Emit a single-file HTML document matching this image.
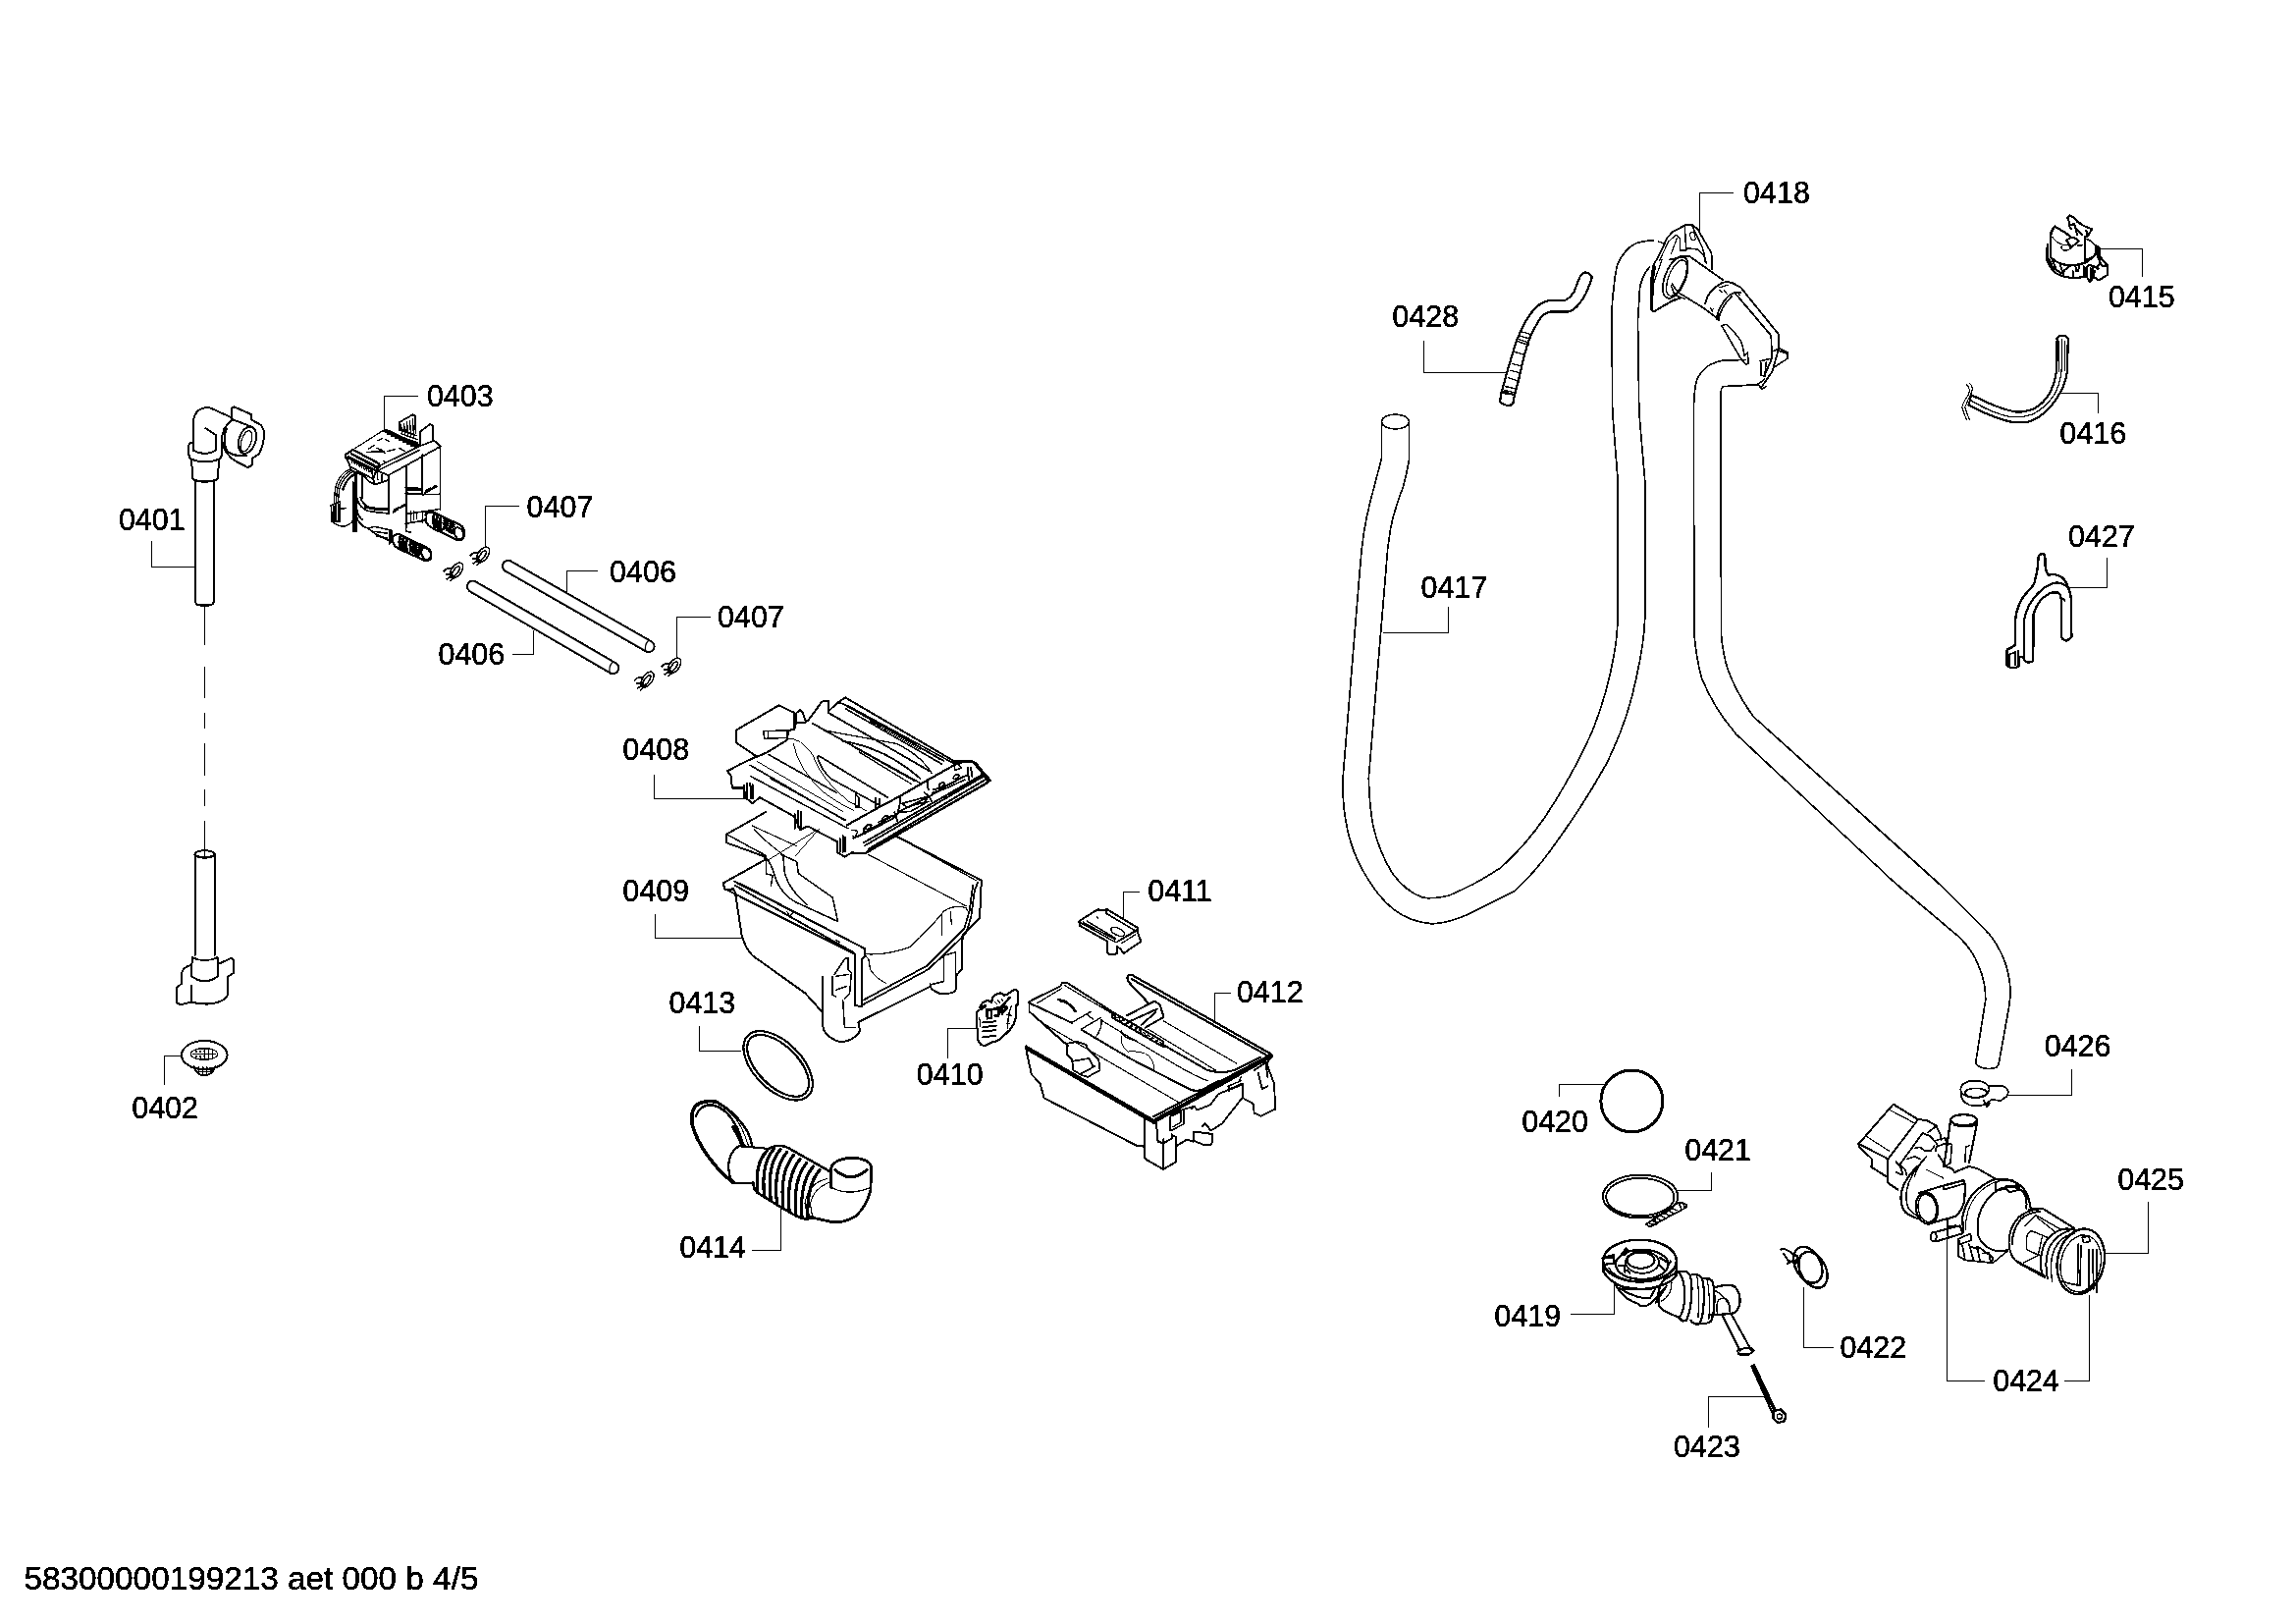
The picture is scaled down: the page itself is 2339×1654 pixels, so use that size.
<!DOCTYPE html>
<html><head><meta charset="utf-8"><style>
html,body{margin:0;padding:0;background:#fff;width:2339px;height:1654px;overflow:hidden}
svg{position:absolute;left:0;top:0}
.parts *{vector-effect:non-scaling-stroke}
text{font-family:"Liberation Sans",sans-serif;font-size:30.5px;fill:#000;stroke:#000;stroke-width:0.5px}
</style></head><body>
<svg width="2339" height="1654" viewBox="0 0 2339 1654" xmlns="http://www.w3.org/2000/svg">
<defs><filter id="bin" x="0" y="0" width="2339" height="1654" filterUnits="userSpaceOnUse"><feComponentTransfer><feFuncA type="discrete" tableValues="0 1"/></feComponentTransfer></filter></defs>
<g filter="url(#bin)">
<g fill="none" stroke="#000" stroke-width="1.2" shape-rendering="crispEdges">
<polyline points="154.5,550.5 154.5,577.5 198.5,577.5"/>
<polyline points="185.5,1075.5 167.5,1075.5 167.5,1104.5"/>
<polyline points="425.5,403.5 391.5,403.5 391.5,439.5"/>
<polyline points="528.5,515.5 494.5,515.5 494.5,555.5"/>
<polyline points="608.5,581.5 577.5,581.5 577.5,602.5"/>
<polyline points="723.5,628.5 689.5,628.5 689.5,668.5"/>
<polyline points="521.5,666.5 543.5,666.5 543.5,641.5"/>
<polyline points="666.5,788.5 666.5,813.5 757.5,813.5"/>
<polyline points="667.5,930.5 667.5,955.5 755.5,955.5"/>
<polyline points="712.5,1044.5 712.5,1070.5 754.5,1070.5"/>
<polyline points="765.5,1273.5 795.5,1273.5 795.5,1228.5"/>
<polyline points="1160.5,908.5 1144.5,908.5 1144.5,936.5"/>
<polyline points="1253.5,1011.5 1237.5,1011.5 1237.5,1039.5"/>
<polyline points="965.5,1077.5 965.5,1047.5 995.5,1047.5"/>
<polyline points="1765.5,196.5 1731.5,196.5 1731.5,235.5"/>
<polyline points="1450.5,346.5 1450.5,379.5 1533.5,379.5"/>
<polyline points="1475.5,617.5 1475.5,644.5 1408.5,644.5"/>
<polyline points="2138.5,253.5 2182.5,253.5 2182.5,281.5"/>
<polyline points="2098.5,400.5 2137.5,400.5 2137.5,420.5"/>
<polyline points="2146.5,567.5 2146.5,598.5 2107.5,598.5"/>
<polyline points="2110.5,1088.5 2110.5,1115.5 2044.5,1115.5"/>
<polyline points="2188.5,1223.5 2188.5,1276.5 2144.5,1276.5"/>
<polyline points="1983.5,1259.5 1983.5,1406.5 2021.5,1406.5"/>
<polyline points="2102.5,1406.5 2128.5,1406.5 2128.5,1318.5"/>
<polyline points="1837.5,1310.5 1837.5,1372.5 1867.5,1372.5"/>
<polyline points="1588.5,1116.5 1588.5,1104.5 1633.5,1104.5"/>
<polyline points="1743.5,1193.5 1743.5,1212.5 1708.5,1212.5"/>
<polyline points="1599.5,1338.5 1644.5,1338.5 1644.5,1307.5"/>
<polyline points="1740.5,1453.5 1740.5,1422.5 1797.5,1422.5"/>
</g>
<g fill="none" stroke="#000" stroke-width="2" stroke-linejoin="round" stroke-linecap="round" class="parts">
<!-- 0401 upper: zoom region [150,390] scale 6.493 -->
<g transform="translate(150,390) scale(0.15401)">
<path d="M318,655 L318,1440 Q318,1468 348,1470 L412,1470 Q440,1468 440,1440 L440,655"/>
<path d="M292,505 L302,638 Q380,672 464,638 L476,505"/>
<path d="M302,638 Q380,660 464,638" stroke-width="1"/>
<path d="M292,505 Q275,495 275,470 L275,410 Q278,395 300,395"/>
<path d="M292,505 Q380,540 476,505 Q492,495 492,470 L492,350"/>
<path d="M305,445 L305,260 Q310,165 405,160 L548,225"/>
<path d="M305,445 Q380,490 455,445 L455,345 L385,300"/>
<path d="M560,165 L575,158 L690,210 L690,245 L752,278 L775,322 L775,352 L760,420 L740,470 L692,500 L692,545 L665,560 L600,525 L560,500 L525,462 L502,420 L492,360 L510,300 L545,260 L560,245 Z"/>
<path d="M560,240 L690,290"/>
<ellipse cx="662" cy="378" rx="55" ry="92" transform="rotate(18 662 378)"/>
<ellipse cx="655" cy="385" rx="32" ry="72" transform="rotate(18 655 385)" stroke-width="1.2"/>
<path d="M525,300 Q495,380 530,452 Q580,490 660,480"/>
</g>
<!-- 0401 lower: zoom region [160,840] scale 6.01 -->
<g transform="translate(160,840) scale(0.16639)">
<path d="M232,180 L232,800 M352,180 L352,800"/>
<ellipse cx="292" cy="180" rx="60" ry="22"/>
<path d="M258,192 Q292,220 326,192" stroke-width="1.2"/>
<path d="M215,812 L210,925 Q292,990 375,925 L370,812"/>
<path d="M215,812 Q292,850 370,812"/>
<path d="M210,860 Q160,870 152,905 L152,972 L120,995 L118,1080 Q125,1100 150,1100 L210,1085 Q260,1100 330,1095 Q410,1085 430,1045 L432,930 L470,905 L470,830 L455,815 L405,840 L375,850"/>
<path d="M212,985 L212,1085"/>
</g>
<!-- dashed centre line -->
<g stroke-width="1.2">
<path d="M208.5,616 L208.5,656 M208.5,679 L208.5,710 M208.5,726 L208.5,741 M208.5,757 L208.5,789 M208.5,804 L208.5,820 M208.5,836 L208.5,872"/>
</g>
<!-- 0402 strainer -->
<g transform="translate(160,840) scale(0.16639)">
<ellipse cx="290" cy="1410" rx="140" ry="88"/>
<ellipse cx="288" cy="1403" rx="82" ry="36" stroke-width="1.2"/>
<path d="M215,1403 L361,1403 M230,1388 L346,1388 M230,1418 L346,1418 M250,1373 L326,1373 M250,1432 L326,1432 M240,1370 L240,1436 M265,1368 L265,1438 M290,1367 L290,1439 M315,1368 L315,1438 M340,1372 L340,1434" stroke-width="0.8"/>
<path d="M225,1480 Q240,1530 290,1535 Q340,1530 355,1480" />
<path d="M240,1490 L340,1490 M235,1510 L345,1510 M255,1480 L255,1528 M280,1480 L280,1533 M305,1480 L305,1533 M330,1480 L330,1528" stroke-width="0.8"/>
</g>

<!-- 0403 valve: frame [320,420] x10.15 -->
<g transform="translate(320,420) scale(0.098522)" stroke-width="1.8">
<!-- top plate -->
<path d="M400,385 L712,188" stroke-width="1.3"/>
<path d="M712,188 L745,178 L1095,340 L1060,360 Z" stroke-width="1.8"/>
<path d="M730,200 L1075,360 M745,190 L1085,345 M760,230 L780,215 M800,250 L820,235 M840,270 L860,255 M880,290 L900,275 M920,310 L940,295 M960,330 L980,315 M1000,350 L1020,335" stroke-width="1.4"/>
<path d="M600,590 L1100,345 M770,650 L1305,352 M640,610 L1090,390" stroke-width="1.6"/>
<path d="M1100,345 L1240,292 L1305,345 L1305,1005" stroke-width="1.8"/>
<path d="M880,105 L1020,22 L1048,40 L1050,215 M880,105 L880,185 L960,185" stroke-width="1.8"/>
<path d="M900,130 L910,230 M930,115 L940,230 M960,100 L970,235 M990,85 L1000,240 M1020,70 L1030,250 M890,180 L1060,240 M895,220 L1070,280 M900,260 L1075,310" stroke-width="1.3"/>
<path d="M1095,200 L1200,122 L1228,140 L1230,292 M1095,200 L1095,335" stroke-width="1.8"/>
<path d="M560,380 L620,340 M650,370 L720,410 M540,410 L720,400 M690,380 L730,420 M760,400 L840,380 M880,370 L940,400 M720,500 L740,520 M660,290 L700,270 M740,280 L780,300" stroke-width="1.5"/>
<!-- left connector -->
<path d="M320,440 L400,385 L672,530 L680,560 L640,600 L600,590 L370,478 L330,470 Z" stroke-width="2"/>
<path d="M330,470 L360,530 L372,560 L612,690 L640,600 M372,560 L380,595 L525,665 L560,710 L630,745 L770,700 L770,650 L640,600" stroke-width="1.8"/>
<path d="M350,450 L640,600 M380,420 L660,565 M420,395 L670,535 M440,405 L655,520 M380,430 L640,575" stroke-width="1.5"/>
<path d="M380,480 L395,520 M405,490 L420,535 M430,505 L445,548 M455,518 L470,560 M480,530 L495,575 M505,545 L520,590 M530,558 L545,600 M555,570 L570,615 M580,585 L595,630" stroke-width="1.4"/>
<path d="M600,600 L610,680 M650,620 L660,700 M700,640 L700,720 M620,700 L620,740" stroke-width="1.3"/>
<!-- coils -->
<path d="M500,650 L500,880 M770,650 L770,1045 M950,560 L950,1190 M1120,440 L1120,850" stroke-width="2"/>
<path d="M480,880 Q500,960 600,995 L770,1000 M440,880 Q460,980 560,1020 Q650,1040 770,1045" stroke-width="1.8"/>
<path d="M530,975 Q600,1000 760,1000" stroke-width="3"/>
<path d="M950,780 L1110,790 M950,835 Q1030,850 1110,845 M960,800 L1100,805" stroke-width="2"/>
<path d="M820,1030 L930,960 M830,1010 L900,970 M1150,830 L1290,750 M1160,810 L1260,760" stroke-width="2.4" stroke-dasharray="5 3"/>
<path d="M1120,850 L1300,845 M950,1050 L1300,1000 M950,1150 L1130,1120 L1150,1100" stroke-width="1.6"/>
<path d="M420,620 L420,1230 M440,620 L440,1230 M400,720 L400,1230 L440,1235" stroke-width="1.6"/>
<path d="M430,1060 Q460,1170 560,1200 L640,1260 L800,1340 M440,1000 Q450,1070 500,1110" stroke-width="1.8"/>
<path d="M560,1200 L620,1180 L800,1220 L800,1340 M780,1220 L780,1360 M620,1230 L760,1250 M640,1280 L760,1300" stroke-width="1.5"/>
<path d="M950,1150 L950,1230 L1000,1240 M1000,1020 L1000,1130 M1030,1020 L1030,1110 M1060,1030 L1060,1100 M1120,1020 L1120,1140 M1160,1020 L1160,1120" stroke-width="1.5"/>
<!-- wires -->
<path d="M360,590 Q260,640 225,760 Q205,850 210,950 M380,600 Q285,650 245,770 Q228,850 230,930 M400,610 Q310,665 265,780 Q250,850 250,925 M420,630 Q330,690 290,800 M410,650 Q320,710 300,810" stroke-width="1.3"/>
<path d="M175,960 L270,920 L270,1130 L185,1130 Z M200,950 L200,1130 M225,940 L225,1130 M250,930 L250,1130" stroke-width="1.6"/>
<path d="M185,1130 Q240,1180 300,1180 Q360,1170 395,1130 M270,1000 L330,990" stroke-width="1.4"/>
<!-- nozzle lower -->
<path d="M810,1300 Q830,1255 880,1260 L1160,1395 Q1215,1420 1210,1470 Q1200,1530 1140,1530 L880,1410 Q815,1380 810,1320" stroke-width="2.2"/>
<ellipse cx="1160" cy="1465" rx="45" ry="68" transform="rotate(-28 1160 1465)" stroke-width="2"/>
<path d="M890,1290 Q870,1340 900,1420 M925,1300 Q905,1360 935,1435 M960,1310 Q940,1370 965,1450" stroke-width="3"/>
<path d="M985,1330 L1120,1400 M985,1350 L1115,1420 M980,1370 L1110,1440 M985,1390 L1100,1460 M990,1410 L1090,1475 M1000,1430 L1080,1490 M1000,1320 L990,1440 M1030,1335 L1020,1460 M1060,1350 L1050,1475 M1090,1365 L1080,1490" stroke-width="1.4"/>
<!-- nozzle upper -->
<path d="M1150,1060 Q1175,1020 1230,1030 L1500,1160 Q1560,1190 1555,1250 Q1545,1320 1480,1320 L1230,1200 Q1160,1170 1150,1100" stroke-width="2.2"/>
<ellipse cx="1500" cy="1255" rx="45" ry="68" transform="rotate(-28 1500 1255)" stroke-width="2"/>
<path d="M1240,1060 Q1220,1110 1250,1190 M1275,1070 Q1255,1130 1285,1205 M1310,1080 Q1290,1140 1315,1215" stroke-width="3"/>
<path d="M1335,1100 L1460,1165 M1335,1120 L1455,1185 M1330,1140 L1450,1205 M1335,1160 L1440,1225 M1340,1180 L1430,1240 M1350,1200 L1420,1255 M1350,1095 L1340,1210 M1380,1110 L1370,1225 M1410,1125 L1400,1240 M1440,1140 L1430,1255" stroke-width="1.4"/>
</g>

<!-- 0406 tubes -->
<g>
<path d="M517.7,576.6 L660.9,658.3" stroke-width="13.5" stroke-linecap="round"/>
<path d="M517.7,576.6 L660.9,658.3" stroke="#fff" stroke-width="9.5" stroke-linecap="round"/>
<path d="M481.6,597.3 L624.5,680.3" stroke-width="13.5" stroke-linecap="round"/>
<path d="M481.6,597.3 L624.5,680.3" stroke="#fff" stroke-width="9.5" stroke-linecap="round"/>
<path d="M660.5,652.5 Q656,657 658,664" stroke-width="1.2"/>
<path d="M624,674.5 Q619.5,679 621.5,686" stroke-width="1.2"/>
</g>
<!-- 0407 clips -->
<g id="clipA" stroke-width="1.6">
<g transform="translate(492,565)">
<ellipse cx="0" cy="0" rx="9" ry="5" transform="rotate(-55)"/>
<ellipse cx="-1" cy="0" rx="6" ry="2.3" transform="rotate(-55)"/>
<path d="M-13,1 Q-10,-3 -6,-2 M-11,4 L-6,4 M-10,9 L-4,5 M-7,11 L-2,7"/>
</g>
</g>
<use href="#clipA" transform="translate(-27,16)"/>
<use href="#clipA" transform="translate(195,113)"/>
<use href="#clipA" transform="translate(167.5,127)"/>

<!-- 0408 insert: frame [730,700] scale 8.2 -->
<g transform="translate(730,700) scale(0.121951)">
<path d="M90,700 L200,640 L310,590 L420,545 L590,440 L600,360 L650,350 L655,300 L740,295 L770,270 L880,120 L935,110 L935,200 L1010,130 L1075,85 L1990,620 L2140,620 L2270,780 L2260,800 L1230,1390 L1130,1380 L1070,1415 L1010,1380 L1010,1290 L760,1160 L700,1190 L650,1080 L360,920 L300,970 L240,920 L230,840 L130,840 L120,740 Z"/>
<path d="M160,360 L520,150 L645,210 L650,345 M160,360 L160,460 L330,575"/>
<path d="M660,300 L665,215 L700,190 L720,210 L745,290"/>
<path d="M390,365 L590,360 L590,420 L400,430 Z M430,370 L430,425" stroke-width="1.5"/>
<path d="M1010,130 L1050,135 L1900,615 M1080,180 L1880,640 M1090,150 L1990,640" stroke-width="1.6"/>
<path d="M1260,250 L1860,600 M1280,280 L1700,520" stroke-width="1"/>
<path d="M930,210 L1780,700 M850,330 L1700,800 M800,300 L860,330" stroke-width="1.8"/>
<path d="M900,360 L1500,470 Q1700,560 1800,720" stroke-width="1.4"/>
<path d="M1050,450 Q1400,500 1700,760" stroke-width="1.8"/>
<path d="M1150,500 L1650,780 M1190,540 L1630,810" stroke-width="1.3"/>
<path d="M600,430 Q700,420 800,560 Q880,780 1100,950 L1250,1030" stroke-width="1"/>
<path d="M640,470 Q690,700 900,880 Q1000,960 1150,1030" stroke-width="1"/>
<path d="M840,580 Q870,680 950,760 L1350,980" stroke-width="1.6"/>
<path d="M850,570 L1430,920" stroke-width="1.8"/>
<path d="M280,650 L1070,1110 M280,740 L1100,1180 M430,560 L1000,880 M450,760 L1080,1110" stroke-width="1.6"/>
<path d="M340,620 L1060,1040" stroke-width="1"/>








<!-- clips -->
<path d="M230,820 L230,930 M255,800 L255,920 M280,800 L290,930 M300,810 L305,930" stroke-width="1.8"/>
<path d="M655,1060 L655,1180 M680,1030 L680,1170 M705,1040 L705,1170" stroke-width="1.8"/>
<path d="M1030,1260 L1030,1380 M1055,1240 L1055,1380 M1075,1250 L1075,1370" stroke-width="1.8"/>
<path d="M1160,890 L1160,1000 L1190,1000 L1190,920 Z M1330,920 L1330,1010 L1360,1000 L1360,930" stroke-width="1.6"/>
<path d="M1180,1200 L1150,1260 L1140,1240 M1130,1190 L1180,1200" stroke-width="1.3"/>
</g>
<!-- 0408 front rail: frame [850,760] x13.53 -->
<g transform="translate(850,760) scale(0.073910)" stroke-width="1.8">
<path d="M440,1470 L2125,490 M470,1420 L2090,455 M400,1330 L2040,390 M420,1370 L2060,410" stroke-width="2"/>
<path d="M170,1090 L500,905 L900,690 L1280,470 L1700,232 L1850,205 L1950,232 L2070,380 L2150,470" stroke-width="2.2"/>
<path d="M260,1270 Q300,1250 420,1200 L800,1000 L900,900 L1300,700 L1550,540 L1830,395" stroke-width="1.8"/>
<path d="M330,1230 L900,910 M930,880 L1500,590" stroke-width="1.2"/>
<path d="M420,1200 Q380,1150 430,1100 Q480,1060 510,1090 M600,1050 L800,950 M900,910 L1050,900 L1300,760 M1350,640 L1500,600 L1800,460" stroke-width="1.6"/>
<path d="M910,690 L900,800 L880,900 M830,910 L870,1030 M1280,470 L1280,560 L1300,600 M1240,640 L1310,700 L1340,760 M1840,300 L1850,460 M1880,290 L1900,420" stroke-width="2"/>
<path d="M930,790 L1300,690 L1250,770 L1000,840 Z" stroke-width="1.6"/>
<path d="M1360,600 Q1500,580 1780,420" stroke-width="1.8"/>
<ellipse cx="470" cy="1110" rx="45" ry="24" transform="rotate(-35 470 1110)" stroke-width="1.6"/>
<ellipse cx="700" cy="990" rx="45" ry="24" transform="rotate(-35 700 990)" stroke-width="1.6"/>
<ellipse cx="1480" cy="530" rx="45" ry="24" transform="rotate(-35 1480 530)" stroke-width="1.6"/>
<ellipse cx="1680" cy="420" rx="45" ry="24" transform="rotate(-35 1680 420)" stroke-width="1.6"/>
<path d="M1650,250 L1660,330 L1750,300 M1700,230 L1750,300" stroke-width="1.6"/>
</g>

<!-- 0409 box: frame [620,820] scale 5.74 -->
<g transform="translate(620,820) scale(0.174216)">
<path d="M690,170 L920,40 M690,170 L690,220 L910,300 L915,320 L670,455 L680,495 L730,490 L740,510 L780,770 L800,820 Q830,880 870,900 L1150,1100 L1250,1210 L1255,1310 Q1290,1370 1360,1385 Q1440,1375 1470,1320 L1460,1270 L1880,1060 Q1900,1095 1960,1105 Q2020,1100 2030,1080 L2030,1000 L2065,960 L2070,760 L2130,700 L2170,660 L2180,440 L1680,180"/>
<path d="M690,170 L910,290 L920,300" stroke-width="1.5"/>
<path d="M735,445 L1470,825 L1500,845 L1500,880 M770,460 L1500,840 M680,490 L1440,870 M740,470 L1430,860" stroke-width="2"/>
<path d="M1440,870 L1440,1170 L1480,1180 L1480,900 L1500,880" stroke-width="2"/>
<path d="M1480,1170 L1870,960 L2090,750 L2120,650 L2140,500 L2160,450 M1490,1140 L1860,940 L2080,720 L2110,620 L2130,470" stroke-width="1.8"/>
<path d="M1500,880 L1520,900 L1530,960 Q1560,1010 1620,1040 M1510,870 Q1620,880 1760,830 Q1880,720 1960,620 Q2020,580 2090,600 L2100,620" stroke-width="1.2"/>
<path d="M1520,290 L2090,590 M1680,180 L2150,440" stroke-width="1.2"/>
<path d="M1950,640 L1950,760 M2000,620 L2005,700" stroke-width="1.2"/>
<path d="M920,300 L920,400 L960,410 L950,470 M920,310 Q950,330 980,440 Q1020,530 1100,570 L1340,680 L1310,540 L1110,400 L1100,330 L1010,290 M1020,290 L1030,400 Q1060,500 1160,580" stroke-width="1.5"/>
<path d="M840,120 L1100,240 M850,140 Q900,200 1020,290" stroke-width="1.1"/>
<path d="M920,330 L1210,150 M1090,300 L1230,140" stroke-width="1"/>
<path d="M1250,1000 L1250,1210 M1310,1000 L1310,1110 L1330,1120 M1320,990 L1380,900 L1400,890 L1400,960 L1420,980 L1410,1100 L1380,1130 M1330,1000 L1400,990 M1330,1080 L1390,1060 M1370,1140 L1380,1300 L1440,1300" stroke-width="1.5"/>
<path d="M1880,1060 L1880,1040 M1940,900 L1960,880 L2030,860 L2030,1000 M1960,880 L1960,1030 L1880,1050" stroke-width="1.5"/>
<path d="M1040,620 L1060,650 L1080,630 M1330,790 L1350,800" stroke-width="1.2"/>
</g>

<!-- 0410-0412: frame [920,880] scale 5.075 -->
<g transform="translate(920,880) scale(0.197044)">
<!-- 0411 switch -->
<path d="M910,295 L1005,235 L1050,240 L1050,232 L1215,330 L1215,360 L1230,400 L1140,462 L1125,440 L1105,425 L1105,462 Q1080,475 1058,462 L1058,400 L912,318 Z"/>
<path d="M912,300 L1100,405 L1215,335 M1050,240 L1050,255 L1200,345 M930,300 L1095,390 M950,295 L1100,385" stroke-width="1.5"/>
<ellipse cx="1110" cy="350" rx="38" ry="18" transform="rotate(25 1110 350)" stroke-width="1.3"/>
<path d="M1000,270 L1010,285 M1120,395 L1210,345 M1130,410 L1200,365" stroke-width="1.3"/>
</g>

<!-- 0412 drawer: frame [1000,960] x7.383 -->
<g transform="translate(1000,960) scale(0.135446)" stroke-width="2">
<path d="M350,450 L355,445 L595,325 L605,305 L640,300 L990,525 L990,535 M985,565 L1360,780 L1370,745 L990,525 M985,535 L985,570 M1365,760 L1372,785"/>
<path d="M420,455 L600,345 M620,320 L975,530" stroke-width="1.2"/>
<path d="M995,545 L1360,760" stroke-width="1.6" stroke-dasharray="2 3"/>
<path d="M1000,560 L1360,772" stroke-width="1.2" stroke-dasharray="2 4"/>
<path d="M1100,250 Q1110,238 1135,245 L2180,840 L2185,860 L2160,880 L2150,905 M1130,275 L2150,850 M1100,250 Q1090,275 1110,300 L1250,450" stroke-width="2.2"/>
<path d="M1090,550 L1300,440 L1340,465 L1370,560 L1230,640 M1120,590 L1320,500 M1200,620 L1310,525" stroke-width="2"/>
<path d="M1370,590 L1920,910 M1250,650 L1760,960" stroke-width="1.2"/>
<path d="M355,450 L360,520 Q500,650 650,780 M450,600 L1480,1200 M910,590 L1480,930 Q1600,1000 1700,1040" stroke-width="1.2"/>
<path d="M355,452 L680,605 M360,520 L650,775 M750,655 L1130,880 L1560,1100 Q1600,1120 1650,1110 L1780,1040 M1370,770 L1700,960 Q1800,990 1900,960 L2100,860" stroke-width="2"/>
<path d="M575,430 Q640,420 710,515 M590,440 Q645,440 700,515" stroke-width="1.8"/>
<path d="M680,600 L820,520 M750,650 L895,565 M795,540 L840,580 M900,580 Q910,650 850,720 M1050,660 Q1060,720 1170,740" stroke-width="1.4"/>
<path d="M1050,700 Q1040,780 1100,820 Q1200,810 1260,850 Q1300,900 1300,960" stroke-width="1"/>
<path d="M640,760 L720,745 L790,770 L790,790 L880,880 L890,960 L800,1010 L760,1000 L690,960 L680,880 L640,840 Z M690,890 L810,870 L840,940 M740,990 L850,930" stroke-width="1.8"/>
<path d="M335,780 L1310,1345 L2180,860 M335,800 L1300,1360 M1290,1310 L2170,845 M1310,1325 L2175,858" stroke-width="2.2"/>
<path d="M335,780 L340,830 L375,990 L440,1060 L470,1170 L1175,1531 L1222,1531" stroke-width="2"/>
<path d="M1222,1323 L1222,1606 L1233,1629 L1366,1705 L1465,1647 L1465,1462 L1430,1450 M1366,1479 L1366,1705 M1314,1358 L1326,1496 L1366,1508 L1430,1474 L1430,1439" stroke-width="2"/>
<path d="M1418,1311 L1418,1415 M1522,1265 L1522,1364 L1430,1410 M1440,1300 L1500,1270 L1500,1350 L1440,1385" stroke-width="1.5"/>
<path d="M1471,1525 L1546,1480 L1592,1496 L1598,1421 L1736,1439 L1736,1502 L1720,1520 L1673,1522 L1598,1491 M1660,1380 L1680,1360 L1720,1410" stroke-width="2"/>
<path d="M1720,1415 Q1780,1380 1812,1358 Q1840,1320 1870,1282 L1962,1166 L1962,1062 M1962,1166 L2044,1213 L2050,1282 L2101,1305 L2200,1254" stroke-width="1.8"/>
<path d="M1600,1230 L1620,1260 L1720,1220 L1780,1140 L1960,1060 M1580,1250 L1600,1230 M1420,1300 L1500,1260 L1600,1230" stroke-width="1.8"/>
<path d="M2050,960 L2140,900 L2200,1060 L2210,1260 M2140,920 L2150,1010 M2080,980 L2110,1100 L2150,1080" stroke-width="1.8"/>
<path d="M1850,1080 L1950,1040 M1860,1110 L1960,1070 M1860,1080 L1860,1120" stroke-width="1.4"/>
<path d="M1940,1040 L1950,1010" stroke-width="1.4"/>
</g>
<!-- 0410: frame [990,1000] x23.2 -->
<g transform="translate(990,1000) scale(0.043103)" stroke-width="2.2">
<path d="M120,720 L200,650 L200,560 L260,490 L370,430 L470,490 L480,390 L530,320 L650,265 L700,270 L770,320 L830,300 L950,210 L1030,175 L1080,210 L1090,400 L1100,520 L1050,560 L1040,850 L990,1000 L900,1130 L800,1230 L700,1330 L580,1400 L480,1420 L380,1480 L290,1510 L210,1480 L150,1380 L130,1100 L110,1050 L110,900 Z"/>
<path d="M200,600 Q260,560 330,570 L220,640" stroke-width="2.6"/>
<path d="M350,665 L460,660 L460,860 L370,865 Z M540,645 L640,640 L630,800 L545,800 M700,590 L820,580 L820,630 L715,750 Z" stroke-width="2.6"/>
<path d="M510,645 L700,590 L900,370" stroke-width="2.6"/>
<path d="M260,960 L570,935 M260,1075 L590,1030 M260,1165 L570,1145 M260,1310 L570,1265" stroke-width="2"/>
<path d="M940,570 Q880,700 870,800 Q855,950 840,1100 M820,770 L940,800 M820,980 L900,990" stroke-width="1.4"/>
<path d="M540,470 L590,520 M610,420 L660,500 M700,400 L730,450 M170,840 Q220,950 200,1050" stroke-width="1.3"/>
</g>

<!-- 0413/0414: frame [670,1030] scale 6.248 -->
<g transform="translate(670,1030) scale(0.16005)">
<ellipse cx="766" cy="346" rx="271" ry="152" transform="rotate(45 766 346)" stroke-width="2.2"/>
<ellipse cx="766" cy="346" rx="246" ry="128" transform="rotate(45 766 346)" stroke-width="2.2"/>
</g>
<!-- 0414: frame [680,1120] x10.436 -->
<g transform="translate(680,1120) scale(0.095822)" stroke-width="2">
<path d="M700,882 Q560,780 430,600 Q300,420 262,260 Q240,100 330,42 Q400,12 470,15 L520,22" stroke-width="3.6"/>
<path d="M520,22 Q600,60 700,150 Q800,250 850,340 Q890,420 900,492" stroke-width="2.4"/>
<path d="M300,175 Q340,62 450,55 Q550,60 640,150 Q720,240 770,370 L810,490" stroke-width="2.4"/>
<path d="M700,290 Q760,380 800,490" stroke-width="4"/>
<path d="M520,35 Q620,90 710,180 Q800,290 860,490" stroke-width="1.1"/>
<path d="M760,490 L1080,522 M700,885 L912,885 M760,490 Q650,560 648,710 Q655,830 700,882" stroke-width="2.2"/>
<path d="M760,490 Q650,560 648,710" stroke-width="1"/>
<path d="M1080,522 Q1120,490 1190,488 Q1260,490 1340,545 L1740,772 M910,880 Q915,960 960,990 L1170,1120 L1290,1190 Q1400,1265 1480,1270 L1530,1252" stroke-width="2.6"/>
<g stroke-width="3.2">
<path d="M1060,540 Q920,680 960,990"/>
<path d="M1130,525 Q990,680 1030,1030"/>
<path d="M1200,530 Q1050,700 1100,1070"/>
<path d="M1270,555 Q1120,730 1165,1110"/>
<path d="M1340,590 Q1190,770 1230,1150"/>
<path d="M1410,630 Q1260,810 1295,1190"/>
<path d="M1480,670 Q1330,850 1365,1230"/>
<path d="M1550,710 Q1400,890 1430,1260"/>
<path d="M1620,745 Q1480,900 1490,1260"/>
</g>
<path d="M1740,935 L1740,725 Q1760,640 1950,615 Q2150,630 2165,710 L2160,960 Q2120,1120 2010,1230 Q1900,1310 1750,1300 L1530,1252" stroke-width="2.8"/>
<path d="M1780,745 Q1950,900 2120,745" stroke-width="3"/>
<path d="M1740,930 Q1900,1030 2140,940" stroke-width="1.2"/>
<path d="M1700,840 Q1500,880 1460,1100 Q1470,1200 1530,1250 M1720,880 Q1550,950 1520,1100 Q1520,1180 1545,1240" stroke-width="1.1"/>
</g>

<!-- 0415 pressure switch: frame [2060,210] x18.04 -->
<g transform="translate(2060,210) scale(0.055432)" stroke-width="2.2">
<path d="M520,930 L520,520 L545,440 L600,370 L830,510"/>
<path d="M600,370 Q560,420 540,520 M550,560 Q640,680 740,700" stroke-width="1.2"/>
<path d="M470,700 L460,770 L460,1000 Q520,1150 620,1230 Q750,1310 950,1320 Q1100,1310 1180,1280"/>
<path d="M520,930 Q620,1040 760,1070 Q900,1090 1050,1070 Q1150,1050 1210,1010 Q1300,960 1350,880"/>
<path d="M500,980 L560,1120 L700,1220 L750,1230 M560,1000 L620,1140 M700,1070 L740,1210 M760,1290 L770,1180 L880,1100 M930,1190 L940,1320 M980,1100 L1000,1200 M1030,1200 L1050,1080 M1130,1100 L1150,1300" stroke-width="2"/>
<path d="M830,210 L870,170 L950,210 L1010,280 L1130,360 L1280,420 L1210,550 L1160,560 L1150,700 L1160,1000"/>
<path d="M850,240 L880,400 L900,420 M890,340 L960,330 L1010,520 M1000,420 L1100,520 M1180,440 L1190,560" stroke-width="2"/>
<path d="M820,510 L880,550 M810,640 Q830,600 900,580 Q990,570 1040,640 Q1000,700 910,740 L890,780 M830,650 L880,720" stroke-width="2"/>
<ellipse cx="800" cy="760" rx="80" ry="55" stroke-width="1.4"/>
<path d="M1020,720 L1100,720 M1160,600 Q1280,620 1350,740 Q1370,820 1340,890 Q1280,960 1190,980" stroke-width="1.6"/>
<path d="M1370,730 L1420,760 L1420,920 L1570,1090 L1570,1260 L1410,1360 L1320,1300 L1240,1390 L1190,1300 L1180,1120 L1240,1080 L1380,1130 L1420,1060"/>
<path d="M1380,760 L1390,930 L1470,1100 L1550,1090 M1260,1140 L1270,1340 M1300,1130 L1300,1290 M1320,1300 L1330,1180 M1390,1160 L1400,1140" stroke-width="2"/>
</g>
<!-- 0416: frame [1970,230] x6.765 -->
<g transform="translate(1970,230) scale(0.147820)" stroke-width="2.2">
<path d="M850,775 Q855,755 890,755 Q925,760 925,780 L920,1000 Q910,1080 870,1150 Q820,1240 760,1290 Q700,1340 650,1350 L540,1352 Q420,1330 240,1235"/>
<path d="M850,775 L845,1000 Q835,1080 800,1150 Q760,1220 700,1255 Q640,1285 560,1282 Q420,1250 260,1165"/>
<path d="M885,780 L880,1000 Q870,1100 820,1180 Q760,1260 680,1300 Q600,1325 520,1315 Q400,1290 250,1200" stroke-width="1.2"/>
<path d="M860,790 L860,1010 M905,790 L900,1000" stroke-width="1"/>
<path d="M260,1165 L240,1235" stroke-width="1.6"/>
<path d="M245,1085 Q280,1110 255,1160 Q230,1210 215,1250 Q230,1300 245,1335 M225,1095 Q260,1120 235,1170 Q200,1220 195,1250 Q210,1300 225,1335" stroke-width="1.1"/>
</g>
<!-- 0427: frame [2020,520] x9.022 -->
<g transform="translate(2020,520) scale(0.110840)" stroke-width="2.4">
<path d="M510,425 Q520,395 555,395 L570,410 L575,520 Q585,575 605,592 L640,585 Q700,590 740,625 Q770,660 785,710 Q810,760 812,820 L815,1160 Q800,1190 765,1195 Q735,1190 722,1165 L720,820 Q715,770 695,755 Q665,745 620,758 Q570,780 530,825 Q485,880 465,955 L462,1380 Q440,1398 405,1392 Q380,1380 375,1360 L365,1345 L330,1345 L328,1430 Q310,1448 270,1445 Q230,1440 222,1420 L222,1280 L300,1235 L300,990 Q310,920 335,860 Q365,790 420,735 Q465,690 475,660 Q490,600 500,540 L505,520 Z"/>
<path d="M380,1370 L380,1000 Q395,920 430,860 Q480,780 540,730 Q610,670 680,662 Q740,665 775,705" stroke-width="2.2"/>
<path d="M725,820 Q740,800 755,830" stroke-width="1.5"/>
<path d="M245,1320 L300,1300 M325,1290 L325,1420 M300,1300 L300,1420 M245,1320 L245,1430" stroke-width="1.8"/>
</g>

<!-- 0417 hose -->
<g stroke-width="1.7">
<path d="M1407.6,431 L1407.6,466.4 Q1402,488 1396.5,508.6 Q1388,540 1385.4,579.5 L1367.7,796.7 Q1368,850 1387.6,885.4 Q1403,913 1418.7,925.3 Q1436,939 1458.6,940.8 Q1476,940 1494,932 L1542.8,907.6 Q1562,890 1578.3,867.7 Q1610,825 1635.9,779 Q1658,735 1666.9,690.3 Q1675,655 1675.8,628.3 L1675.8,490.8 L1669.8,420 L1668.5,326.4 L1670.5,294 Q1672,282 1680.2,272.1"/>
<path d="M1435.5,431 L1435.5,468.7 Q1433,483 1429.7,495.3 Q1420,520 1416.4,539.6 Q1413,560 1412,579.5 L1394.3,792.3 Q1395,820 1398.7,840.6 Q1405,868 1418.7,889.8 Q1432,908 1449.7,914.2 Q1462,916 1476.3,912 Q1505,900 1529.5,883.2 Q1555,860 1573.8,832.2 Q1602,790 1622.6,743.5 Q1638,705 1644.8,663.7 Q1648,645 1647.9,628.3 L1647.9,486.4 L1642.7,420 L1642,326.4 Q1642,305 1644,294 Q1645,280 1647.8,269.5 Q1651,262 1655.6,256.6 Q1660,251 1667.2,247.5 Q1675,245 1684,244.9"/>
<ellipse cx="1421.5" cy="429.5" rx="14" ry="7.3"/>
<path d="M1689,245.6 L1696,248.5" stroke-width="1.2"/>
</g>
<!-- 0418 hose -->
<g stroke-width="1.7">
<path d="M1778.5,366.5 L1755.2,367.1 Q1746,369 1739.7,372.9 Q1731,380 1728,388.5 Q1725.6,400 1725.4,420 L1725.9,646 Q1728,670 1733.4,690.3 Q1745,720 1768.9,748 L1931.3,900 L1995.6,954.2 Q2010,968 2016,984.7 Q2023,1000 2022.7,1018.5 L2012.6,1082.9"/>
<path d="M1791.4,391.7 L1755.2,393.6 Q1753.3,395 1753.2,398.8 L1753.4,646 Q1755,665 1760,681.5 Q1770,708 1786.6,730.2 L1975.3,900 L2026.1,950.8 Q2038,966 2043,981.3 Q2048,997 2048.1,1011.8 Q2047,1025 2044.8,1035.5 L2036.3,1082.9"/>
<path d="M2012.6,1080 Q2012,1085 2018,1087 Q2026,1090 2034,1087 Q2036.5,1085 2036.3,1082"/>
</g>
<!-- 0428 : frame [1500,260] x10.15 -->
<g transform="translate(1500,260) scale(0.098522)" stroke-width="2.2">
<path d="M285,1510 L300,1420 L360,1200 L420,1000 Q445,920 470,850 Q495,790 520,740 Q550,680 590,620 Q630,560 680,520 Q730,480 780,470 L960,465 Q1010,440 1050,380 Q1080,300 1100,250 Q1115,210 1130,200 Q1150,175 1170,175 Q1205,178 1225,205 Q1240,225 1233,240 Q1220,290 1200,330 Q1175,400 1140,450 Q1110,505 1070,540 Q1030,575 990,585 L800,585 Q760,595 730,620 Q690,660 660,720 Q625,780 600,840 Q575,900 560,950 L520,1100 L480,1280 L430,1470 L420,1530 Q400,1558 350,1550 Q300,1535 285,1510 Z"/>
<path d="M505,790 Q560,800 610,820 M490,830 Q540,850 595,860 M480,870 Q530,890 585,905 M475,890 Q520,915 580,925 M445,1000 L535,1030 M410,1120 L505,1145 M385,1190 L490,1215 M370,1265 L460,1295 M340,1355 L440,1380 M330,1395 L435,1420 M320,1410 L435,1440" stroke-width="1.3"/>
<path d="M300,1420 L420,1440" stroke-width="2"/>
</g>

<!-- 0418 connector: frame [1600,210] x7.733 -->
<g transform="translate(1600,210) scale(0.129316)" stroke-width="1.8">
<path d="M640,822 L632,600 L650,470 L700,380 L760,250 L800,205 L900,150 L960,148 L1000,180 L1110,370 L1115,500"/>
<path d="M640,822 L660,828 L800,745 L860,725" stroke-width="2.2"/>
<path d="M636,810 L645,560 L660,480" stroke-width="3.5"/>
<path d="M700,430 L770,280 L830,225 L860,250 L862,350 M650,620 L720,420 M790,380 L840,250" stroke-width="1.2"/>
<path d="M900,160 L910,350 M960,160 L1040,330 Q1060,400 1060,440" stroke-width="1.5"/>
<path d="M935,215 L970,200 L985,260 L955,270 Z" stroke-width="1.1"/>
<path d="M860,350 L900,350 L920,330 L1000,340 Q1050,370 1070,450" stroke-width="1.5"/>
<ellipse cx="825" cy="560" rx="80" ry="175" transform="rotate(22 825 560)" stroke-width="1.8"/>
<ellipse cx="835" cy="565" rx="62" ry="150" transform="rotate(22 835 565)" stroke-width="1.2"/>
<path d="M780,420 L930,390 L1200,580 M800,610 Q830,660 850,680 L1045,800 L1150,880" stroke-width="1.8"/>
<path d="M790,620 L820,700 L900,730" stroke-width="1.5"/>
<path d="M1060,770 Q1080,660 1200,600 Q1270,590 1300,620 L1340,640 M1150,890 Q1160,790 1250,700 Q1300,670 1340,680 M1165,900 Q1175,800 1270,710" stroke-width="1.8"/>
<path d="M1170,640 L1240,620 M1170,660 L1200,680 M1210,660 L1230,690 M1320,680 L1330,700" stroke-width="1.3"/>
<path d="M1340,640 L1640,1010 L1640,1120 L1590,1300 L1500,1430 M1300,690 L1580,1020 L1585,1200 L1530,1330" stroke-width="1.8"/>
<path d="M1190,940 L1230,930 Q1300,1000 1340,1060 Q1360,1110 1370,1180 L1395,1150 L1400,1240 L1380,1245 L1340,1200 Z" stroke-width="1.6"/>
<path d="M1500,1230 L1500,1330 L1530,1340 L1540,1230 M1490,1220 L1580,1200 M1600,1140 L1640,1120 L1710,1150 L1710,1200 L1600,1270 L1590,1300 M1620,1130 L1700,1160" stroke-width="1.6"/>
<path d="M1470,1400 L1510,1440 L1540,1420 M1480,1400 L1530,1360" stroke-width="1.6"/>
<path d="M1100,800 L1120,830 M1105,820 L1125,810" stroke-width="1.3"/>
</g>

<!-- 0420 O-ring -->
<circle cx="1662.4" cy="1121.4" r="31.5" stroke-width="3"/>
<!-- 0421, 0419: frame [1620,1170] x7.733 -->
<g transform="translate(1620,1170) scale(0.129316)" stroke-width="2">
<ellipse cx="395" cy="375" rx="295" ry="170"/>
<ellipse cx="393" cy="380" rx="268" ry="148"/>
<path d="M440,595 L700,420 L760,440 L760,460 L470,615 Z" stroke-width="1.8"/>
<path d="M470,590 L500,600 M500,570 L530,585 M530,550 L560,565 M560,530 L590,545 M590,510 L620,525 M620,490 L650,505 M650,470 L680,485 M700,430 L720,480 M730,420 L745,465 M500,530 L520,600" stroke-width="1.5"/>
<!-- 0419 -->
</g>
<g transform="translate(1630,1255) scale(0.056625)" stroke-width="2">
<ellipse cx="715" cy="512" rx="660" ry="378" stroke-width="2.4"/>
<path d="M55,540 L60,700 Q150,880 400,980 Q600,1030 800,1020 Q1100,990 1300,860 L1370,780 L1375,560" stroke-width="2.4"/>
<ellipse cx="755" cy="580" rx="475" ry="268" stroke-width="2.2"/>
<ellipse cx="735" cy="505" rx="245" ry="145" stroke-width="2.2"/>
<ellipse cx="760" cy="540" rx="300" ry="200" stroke-width="1.8"/>
<path d="M40,470 L240,405 L260,560 L70,580 M120,450 L240,450 M380,410 L470,290 L500,330 L440,410 M1080,460 L1250,560 L1270,520 M1070,600 L1150,680" stroke-width="2.2"/>
<path d="M330,600 L430,590 L450,720 M480,680 L540,740" stroke-width="2"/>
<path d="M150,640 Q260,800 500,870 Q640,900 760,900 Q1000,880 1200,790" stroke-width="1.3"/>
<path d="M280,950 Q360,1100 500,1200 Q620,1270 700,1290 L730,1330 L820,1330 L900,1280 M330,1000 Q500,1110 700,1170 L900,1190 M420,1020 L920,1030 M900,1190 L1000,1000 M920,1280 L1170,1000 M1000,1270 L1200,960" stroke-width="2"/>
<path d="M1100,1240 Q1200,1200 1270,1050 L1290,900" stroke-width="1.2"/>
</g>
<g transform="translate(1620,1170) scale(0.129316)" stroke-width="2">
<path d="M540,1230 Q520,1100 580,1030 L690,970 Q740,955 770,975 Q800,1000 800,1100 Q800,1250 760,1350 Q730,1370 700,1330 L610,1290 Q560,1270 540,1230 Z" stroke-width="2.2"/>
<path d="M690,970 Q740,1000 745,1150 Q740,1290 700,1330" stroke-width="2.2"/>
<path d="M800,990 Q850,980 880,1020 Q900,1080 895,1200 Q890,1330 860,1380 Q820,1390 790,1350" stroke-width="2.2"/>
<path d="M880,1020 Q930,1010 960,1040 Q980,1090 978,1200 Q975,1320 950,1360 Q920,1380 870,1375" stroke-width="2.2"/>
<path d="M840,1000 Q860,1100 850,1330 M920,1030 Q945,1120 935,1340" stroke-width="1.2"/>
<path d="M980,1090 L1030,1080 Q1080,1070 1130,1080 Q1170,1110 1180,1180 Q1185,1250 1140,1290 L1100,1300 L950,1310" stroke-width="2.2"/>
<path d="M1000,1290 Q990,1220 1010,1190 Q1040,1170 1070,1180 Q1100,1200 1100,1300 M990,1120 Q1050,1150 1100,1240" stroke-width="1.4"/>
<path d="M1040,1310 L1180,1590 M1110,1300 L1270,1590" stroke-width="2"/>
<path d="M1160,1590 L1170,1620 L1250,1620 L1290,1590 L1270,1570 L1180,1575 Z" stroke-width="2"/>
</g>
<!-- 0422, 0423: frame [1500,1080] x3.8675 -->
<g transform="translate(1500,1080) scale(0.258565)" stroke-width="2">
<ellipse cx="1322" cy="805" rx="50" ry="76" transform="rotate(-28 1322 805)" stroke-width="2.4"/>
<ellipse cx="1342" cy="825" rx="50" ry="76" transform="rotate(-28 1342 825)" stroke-width="2.4"/>
<path d="M1215,745 Q1230,735 1260,760 L1280,770 L1275,800 L1250,790 M1225,760 L1245,790 M1240,800 L1260,790" stroke-width="2"/>
<path d="M1100,1205 L1110,1200 L1195,1380 L1180,1385 Z M1105,1210 L1190,1380" stroke-width="2.2"/>
<path d="M1185,1380 L1215,1375 L1235,1395 L1230,1420 L1205,1428 L1185,1410 Z" stroke-width="2.4"/>
<circle cx="1210" cy="1402" r="10" stroke-width="1.5"/>
</g>
<!-- 0426 clamp: frame [1850,900] x2.9525 -->
<g transform="translate(1850,900) scale(0.338696)" stroke-width="1.8">
<ellipse cx="478" cy="618" rx="43" ry="26"/>
<ellipse cx="481" cy="629" rx="33" ry="14"/>
<path d="M436,625 Q436,645 445,655 Q460,668 478,668 Q500,667 512,662 L525,652 M520,609 L562,609 Q578,615 578,627 Q576,640 572,641 L556,652 L528,650 M505,652 L515,672 L522,660" stroke-width="1.8"/>
</g>

<!-- 0424/0425 pump: frame [1880,1110] x7.381 -->
<g transform="translate(1880,1110) scale(0.135483)" stroke-width="2">
<!-- motor box -->
<path d="M100,405 L360,108 L545,222 L610,228 L680,268 L712,330 L720,375"/>
<path d="M100,405 L105,430 L200,520 L195,580 L320,660 L320,700 L395,750"/>
<path d="M330,150 L520,250 M150,345 L330,460" stroke-width="1.2"/>
<path d="M320,520 L545,225 M320,520 L320,650 M100,405 L320,520"/>
<path d="M410,560 L580,325 L640,350 L690,410 M620,320 L690,270" stroke-width="1.8"/>
<path d="M410,560 L450,600 L460,640 M380,540 L420,590 L430,640 L380,620" stroke-width="1.8"/>
<path d="M520,440 L560,430 L600,460 L640,460 L670,420 M460,520 L520,500 L560,520" stroke-width="1.6"/>
<!-- outlet pipe -->
<ellipse cx="890" cy="226" rx="100" ry="40" stroke-width="2.2"/>
<path d="M820,262 Q900,280 975,262" stroke-width="3"/>
<path d="M790,232 L740,578 M990,248 L930,545" stroke-width="2.2"/>
<path d="M740,400 L800,408 L790,548 L760,570 M900,540 L905,430 L930,420" stroke-width="1.6"/>
<path d="M680,380 L750,360 L760,400 L700,420 Q670,430 680,460" stroke-width="1.6"/>
<!-- volute ring -->
<path d="M560,560 Q450,650 420,770 Q405,860 450,920 Q500,960 560,970" stroke-width="2.2"/>
<path d="M590,520 Q480,640 460,760 Q450,850 480,900 Q520,940 560,950" stroke-width="1.5"/>
<path d="M610,500 Q540,580 520,650" stroke-width="1.2"/>
<path d="M700,490 L760,580 L800,590 L820,620 L930,575 L990,590 L1130,670" stroke-width="2"/>
<path d="M610,600 L740,665" stroke-width="1.2"/>
<!-- inlet pipe -->
<ellipse cx="612" cy="890" rx="82" ry="118" transform="rotate(-10 612 890)" stroke-width="2.2"/>
<ellipse cx="615" cy="890" rx="68" ry="104" transform="rotate(-10 615 890)" stroke-width="1.3"/>
<path d="M555,775 L730,722 L890,680 L900,720 L895,830 Q880,900 830,950 L620,1008" stroke-width="2.2"/>
<path d="M735,725 L740,750 L895,705" stroke-width="1.6"/>
<!-- filter housing -->
<path d="M885,1070 L880,960 Q900,850 960,780 Q1040,700 1130,670 Q1250,660 1330,730 Q1380,790 1390,880 L1410,900" stroke-width="2.2"/>
<path d="M905,1050 Q900,900 980,800 Q1050,720 1130,690" stroke-width="1.2"/>
<path d="M1000,1100 Q980,990 1020,900 Q1070,790 1170,740 Q1260,710 1330,760 Q1370,800 1360,890 M1000,1100 Q1030,1180 1130,1210 Q1200,1220 1220,1200" stroke-width="2"/>
<path d="M1130,700 L1160,680 L1260,680 L1300,720 L1310,750 L1230,770 L1210,740 L1130,760 Z M1210,720 L1300,720" stroke-width="1.8"/>
<!-- drain stub + clips -->
<ellipse cx="662" cy="1105" rx="22" ry="34" stroke-width="2"/>
<path d="M665,1072 L860,1020 M680,1140 L880,1080 M770,1060 L770,1100 M860,1020 L880,1080 M770,975 L770,1030 L830,1020" stroke-width="2"/>
<path d="M850,1120 L940,1080 L950,1130 L860,1160 Z M850,1120 L850,1250 L900,1280 L1100,1300 L1110,1260 L1000,1180 M880,1170 L900,1280 M930,1160 L960,1270 M990,1180 L1010,1280 M1030,1230 L1080,1220 L1090,1290 M950,1180 L1000,1200" stroke-width="1.8"/>
<path d="M1110,1300 L1220,1210" stroke-width="1.6"/>
<!-- filter 0425 -->
<path d="M1380,900 L1480,890 L1720,1040 M1290,1290 L1500,1400" stroke-width="2.2"/>
<path d="M1230,1170 Q1220,1050 1300,960 Q1370,900 1470,895 M1230,1170 Q1240,1260 1300,1300 L1500,1410 M1255,1160 Q1250,1060 1320,970 Q1380,920 1460,915" stroke-width="2"/>
<path d="M1350,1020 L1430,940 L1620,1050 M1360,1140 Q1360,1070 1400,1060 L1520,1110 M1360,1140 L1360,1200 L1450,1240 L1480,1100" stroke-width="1.4"/>
<path d="M1340,1300 L1460,1240 M1440,960 L1580,1070" stroke-width="1.2"/>
<path d="M1480,1400 Q1450,1250 1500,1150 Q1560,1060 1650,1045 Q1720,1040 1740,1060" stroke-width="2"/>
<path d="M1520,1420 Q1490,1270 1540,1170 Q1600,1080 1680,1060" stroke-width="2"/>
<path d="M1555,1440 Q1530,1300 1570,1200 Q1620,1100 1720,1080" stroke-width="1.6"/>
<ellipse cx="1770" cy="1290" rx="175" ry="248" transform="rotate(12 1770 1290)" stroke-width="2.4"/>
<ellipse cx="1770" cy="1305" rx="150" ry="215" transform="rotate(12 1770 1305)" stroke-width="1.4"/>
<path d="M1750,1160 L1745,1470 M1770,1170 L1765,1470 M1830,1200 L1830,1510 M1860,1200 L1865,1500 M1890,1200 L1890,1520" stroke-width="1.8"/>
<path d="M1780,1110 L1830,1100 L1840,1140 L1790,1150 Z M1620,1440 L1700,1460 L1760,1470" stroke-width="1.6"/>
</g>

</g>
<text x="120.9" y="540">0401</text>
<text x="134.2" y="1139">0402</text>
<text x="434.9" y="414">0403</text>
<text x="621.0" y="593">0406</text>
<text x="446.4" y="677">0406</text>
<text x="536.6" y="527">0407</text>
<text x="731.0" y="639">0407</text>
<text x="634.3" y="774">0408</text>
<text x="634.3" y="918">0409</text>
<text x="933.8" y="1105">0410</text>
<text x="1169.2" y="918">0411</text>
<text x="1259.9" y="1021">0412</text>
<text x="681.4" y="1032">0413</text>
<text x="692.2" y="1281">0414</text>
<text x="2147.9" y="313">0415</text>
<text x="2098.3" y="452">0416</text>
<text x="1447.5" y="609">0417</text>
<text x="1776.0" y="207">0418</text>
<text x="1522.3" y="1351">0419</text>
<text x="1550.2" y="1153">0420</text>
<text x="1716.2" y="1182">0421</text>
<text x="1874.4" y="1383">0422</text>
<text x="1705.1" y="1484">0423</text>
<text x="2030.2" y="1417">0424</text>
<text x="2157.2" y="1212">0425</text>
<text x="2082.7" y="1076">0426</text>
<text x="2107.1" y="557">0427</text>
<text x="1418.3" y="333">0428</text>
<text x="24.5" y="1619" style="font-size:33.3px">58300000199213 aet 000 b 4/5</text>
</g>
</svg>
</body></html>
